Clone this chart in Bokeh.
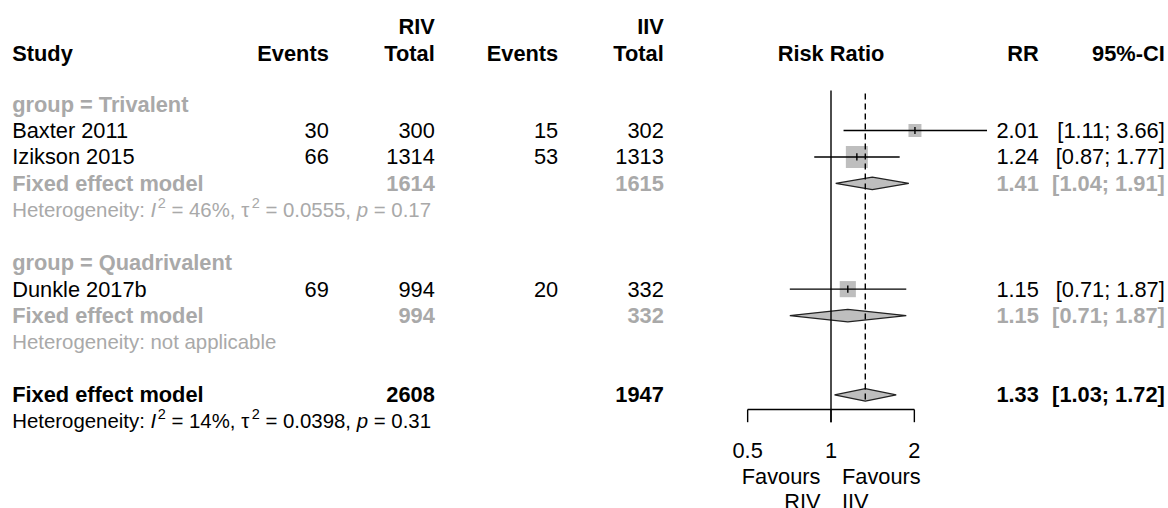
import math
from bokeh.plotting import figure
from bokeh.models import Range1d, LogScale
from bokeh.core.properties import value
from bokeh.embed import file_html
from bokeh.resources import INLINE

# ---------------- data ----------------
studies = ["Baxter 2011", "Izikson 2015", "Dunkle 2017b"]
study_group = ["Trivalent", "Trivalent", "Quadrivalent"]
events_riv = [30, 66, 69]
total_riv = [300, 1314, 994]
events_iiv = [15, 53, 20]
total_iiv = [302, 1313, 332]
rr = [2.01, 1.24, 1.15]
rr_lo = [1.11, 0.87, 0.71]
rr_hi = [3.66, 1.77, 1.87]

groups = ["Trivalent", "Quadrivalent"]
grp_total_riv = [1614, 994]
grp_total_iiv = [1615, 332]
grp_rr = [1.41, 1.15]
grp_lo = [1.04, 0.71]
grp_hi = [1.91, 1.87]
grp_i2 = ["46%", None]
grp_tau2 = ["0.0555", None]
grp_p = ["0.17", None]

overall_total_riv = 2608
overall_total_iiv = 1947
overall_rr = 1.33
overall_lo = 1.03
overall_hi = 1.72
overall_i2 = "14%"
overall_tau2 = "0.0398"
overall_p = "0.31"

axis_ticks = [0.5, 1, 2]
axis_tick_labels = ["0.5", "1", "2"]
fav_left = ["Favours", "RIV"]
fav_right = ["Favours", "IIV"]

# ---------------- layout ----------------
W, H = 1168, 508
ROW_H = 26.44
ROW0_Y = 50.68          # page y of row 0
def row_of(page_y):
    return (page_y - ROW0_Y) / ROW_H

X_STUDY, X_EV_RIV, X_TOT_RIV = 11.7, 328.3, 434.3
X_EV_IIV, X_TOT_IIV = 557.7, 663.3
X_RR, X_CI = 1038.3, 1164.3
X_ONE, PX_PER_DOUBLING = 830.5, 83.35

FS = 21.8
FSB = 21.8
FSH = 20.4
SUP = 14.5
BLACK = "#000000"
GRAY = "#A9A9A9"
FONT = value("Liberation Sans")

p = figure(width=W, height=H, output_backend="svg", toolbar_location=None,
           x_range=Range1d(0, W),
           y_range=Range1d(row_of(H), row_of(0)),
           x_axis_location=None, y_axis_location=None, min_border=0)
p.grid.visible = False
p.outline_line_color = None
p.background_fill_color = "white"
p.border_fill_color = "white"

rr_start = 2 ** ((0 - X_ONE) / PX_PER_DOUBLING)
rr_end = 2 ** ((W - X_ONE) / PX_PER_DOUBLING)
p.extra_x_ranges = {"rr": Range1d(rr_start, rr_end)}
p.extra_x_scales = {"rr": LogScale()}


def txt(x, y, s, align="left", bold=False, italic=False, color=BLACK, size=None,
        xr=None, xoff=0, yoff=0):
    if size is None:
        size = FSB if bold else FS
    style = "normal"
    if bold and italic:
        style = "bold italic"
    elif bold:
        style = "bold"
    elif italic:
        style = "italic"
    kw = {}
    if xr:
        kw["x_range_name"] = xr
    p.text(x=[x], y=[y], text=[s], text_align=align, text_baseline="middle",
           text_font=FONT, text_font_size=value(f"{size}px"), text_font_style=style,
           text_color=color, x_offset=xoff, y_offset=yoff, **kw)


# Arial / Liberation Sans advance widths (em)
CW = {"H": .722, "e": .556, "t": .278, "r": .333, "o": .556, "g": .556, "n": .556,
      "i": .222, "y": .5, ":": .278, " ": .278, "=": .584, "%": .889, ",": .278,
      ".": .278, "I": .278, "p": .556, "τ": .44}
for d in "0123456789":
    CW[d] = .556

def width(s, size):
    return sum(CW.get(c, .556) for c in s) * size


def het_line(y, i2, tau2, pv, color):
    if i2 is None:
        txt(X_STUDY, y, "Heterogeneity: not applicable", color=color, size=FSH)
        return
    pieces = [("Heterogeneity: ", False, False), ("I", True, False), ("2", False, True),
              (f" = {i2}, ", False, False), ("τ", False, False), ("2", False, True),
              (f" = {tau2}, ", False, False), ("p", True, False), (f" = {pv}", False, False)]
    x = X_STUDY
    for s, it, su in pieces:
        size = SUP if su else FSH
        lead = len(s) - len(s.lstrip(" "))
        core = s.strip(" ")
        if su:
            x += 1.5
        x0 = x + lead * CW[" "] * size
        txt(x0, y, core, italic=it, color=color, size=size, yoff=(-7 if su else 0))
        x += width(s, size)


# ---------------- header ----------------
HDR1, HDR2 = row_of(26.0), row_of(52.5)
txt(X_STUDY, HDR2, "Study", bold=True)
txt(X_EV_RIV, HDR2, "Events", align="right", bold=True)
txt(X_TOT_RIV, HDR1, "RIV", align="right", bold=True)
txt(X_TOT_RIV, HDR2, "Total", align="right", bold=True)
txt(X_EV_IIV, HDR2, "Events", align="right", bold=True)
txt(X_TOT_IIV, HDR1, "IIV", align="right", bold=True)
txt(X_TOT_IIV, HDR2, "Total", align="right", bold=True)
txt(1.0, HDR2, "Risk Ratio", align="center", bold=True, xr="rr")
txt(X_RR, HDR2, "RR", align="right", bold=True)
txt(X_CI, HDR2, "95%-CI", align="right", bold=True)

# ---------------- weights for square sizes (fixed effect, log RR) ----------------
wts = [1 / (1 / a - 1 / n1 + 1 / c - 1 / n2)
       for a, n1, c, n2 in zip(events_riv, total_riv, events_iiv, total_iiv)]
wmax = max(wts)
MAX_SQ = 22

DH = 0.238
# ---------------- body ----------------
row = 2
study_rows = {}
for gi, g in enumerate(groups):
    txt(X_STUDY, row, f"group = {g}", bold=True, color=GRAY)
    row += 1
    for si, s in enumerate(studies):
        if study_group[si] != g:
            continue
        study_rows[si] = row
        txt(X_STUDY, row, s)
        txt(X_EV_RIV, row, str(events_riv[si]), align="right")
        txt(X_TOT_RIV, row, str(total_riv[si]), align="right")
        txt(X_EV_IIV, row, str(events_iiv[si]), align="right")
        txt(X_TOT_IIV, row, str(total_iiv[si]), align="right")
        txt(X_RR, row, f"{rr[si]:.2f}", align="right")
        txt(X_CI, row, f"[{rr_lo[si]:.2f}; {rr_hi[si]:.2f}]", align="right")
        row += 1
    # subgroup fixed effect
    txt(X_STUDY, row, "Fixed effect model", bold=True, color=GRAY)
    txt(X_TOT_RIV, row, str(grp_total_riv[gi]), align="right", bold=True, color=GRAY)
    txt(X_TOT_IIV, row, str(grp_total_iiv[gi]), align="right", bold=True, color=GRAY)
    txt(X_RR, row, f"{grp_rr[gi]:.2f}", align="right", bold=True, color=GRAY)
    txt(X_CI, row, f"[{grp_lo[gi]:.2f}; {grp_hi[gi]:.2f}]", align="right", bold=True, color=GRAY)
    p.patch(x=[grp_lo[gi], grp_rr[gi], grp_hi[gi], grp_rr[gi]],
            y=[row, row - DH, row, row + DH], x_range_name="rr",
            fill_color="#BEBEBE", line_color="#222222", line_width=1.2)
    row += 1
    het_line(row, grp_i2[gi], grp_tau2[gi], grp_p[gi], GRAY)
    row += 2

# overall
txt(X_STUDY, row, "Fixed effect model", bold=True)
txt(X_TOT_RIV, row, str(overall_total_riv), align="right", bold=True)
txt(X_TOT_IIV, row, str(overall_total_iiv), align="right", bold=True)
txt(X_RR, row, f"{overall_rr:.2f}", align="right", bold=True)
txt(X_CI, row, f"[{overall_lo:.2f}; {overall_hi:.2f}]", align="right", bold=True)
p.patch(x=[overall_lo, overall_rr, overall_hi, overall_rr],
        y=[row, row - DH, row, row + DH], x_range_name="rr",
        fill_color="#BEBEBE", line_color="#222222", line_width=1.2)
row += 1
het_line(row, overall_i2, overall_tau2, overall_p, BLACK)

# ---------------- study markers ----------------
srows = [study_rows[i] for i in range(len(studies))]
sizes = [MAX_SQ * math.sqrt(w / wmax) for w in wts]
p.scatter(x=rr, y=srows, size=sizes, marker="square", fill_color="#BEBEBE",
          line_color=None, x_range_name="rr")
p.segment(x0=rr_lo, y0=srows, x1=rr_hi, y1=srows, x_range_name="rr",
          line_color=BLACK, line_width=1.4)
TK = 3.6 / ROW_H
p.segment(x0=rr, y0=[r - TK for r in srows], x1=rr, y1=[r + TK for r in srows],
          x_range_name="rr", line_color=BLACK, line_width=1.4)

# ---------------- reference lines ----------------
AXIS_ROW = row_of(409)
TICK_END = row_of(421.7)
p.segment(x0=[1.0], y0=[row_of(90)], x1=[1.0], y1=[TICK_END], x_range_name="rr",
          line_color=BLACK, line_width=1.4)
p.segment(x0=[overall_rr], y0=[row_of(93)], x1=[overall_rr], y1=[row_of(402)],
          x_range_name="rr", line_color=BLACK, line_width=1.4, line_dash="6 4")

# ---------------- axis ----------------
p.segment(x0=[min(axis_ticks)], y0=[AXIS_ROW], x1=[max(axis_ticks)], y1=[AXIS_ROW],
          x_range_name="rr", line_color=BLACK, line_width=1.4)
p.segment(x0=axis_ticks, y0=[AXIS_ROW] * len(axis_ticks), x1=axis_ticks,
          y1=[TICK_END] * len(axis_ticks), x_range_name="rr", line_color=BLACK, line_width=1.4)
for t, lab in zip(axis_ticks, axis_tick_labels):
    txt(t, row_of(450), lab, align="center", xr="rr")
for k, (a, b) in enumerate(zip(fav_left, fav_right)):
    yy = row_of(476 + 25 * k)
    txt(1.0, yy, a, align="right", xr="rr", xoff=-10.5)
    txt(1.0, yy, b, align="left", xr="rr", xoff=11)

open("out.html", "w").write(file_html(p, INLINE))
